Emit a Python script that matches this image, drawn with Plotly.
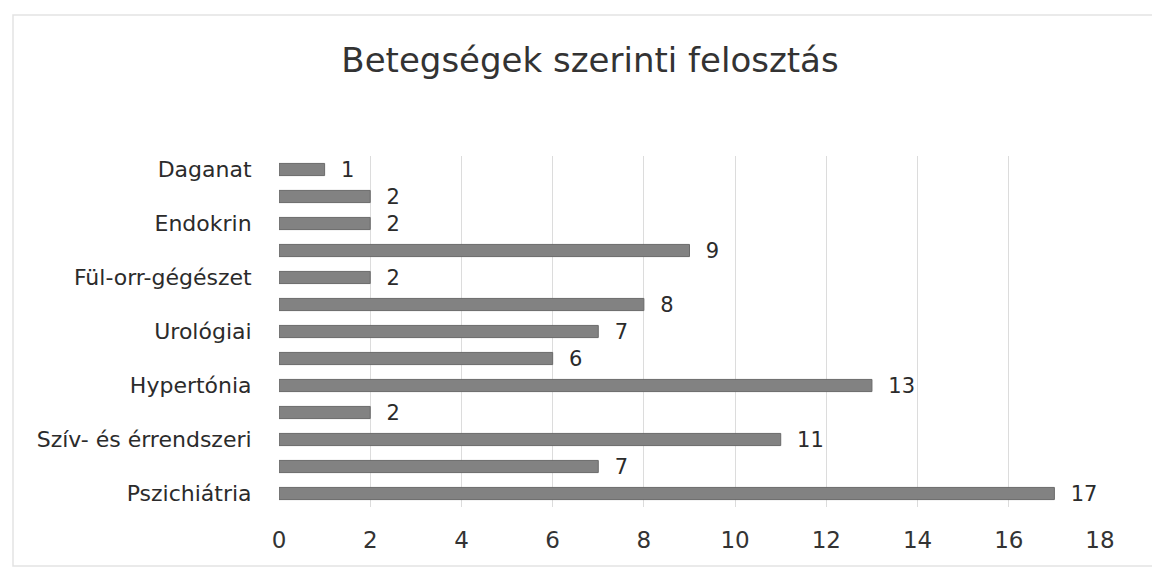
import plotly.graph_objects as go

# Data (top to bottom as in the reference)
labels = ["Daganat", "", "Endokrin", "", "Fül-orr-gégészet", "", "Urológiai", "",
          "Hypertónia", "", "Szív- és érrendszeri", "", "Pszichiátria"]
values = [1, 2, 2, 9, 2, 8, 7, 6, 13, 2, 11, 7, 17]
x_ticks = [0, 2, 4, 6, 8, 10, 12, 14, 16, 18]
title_text = "Betegségek szerinti felosztás"

positions = list(range(len(labels)))

W, H = 1160, 569
ml, mr, mt, mb = 271, 68, 148, 70
FONT = "DejaVu Sans, Verdana, sans-serif"

fig = go.Figure()
fig.add_trace(go.Bar(
    x=values,
    y=positions,
    orientation="h",
    marker=dict(color="#828282", line=dict(color="#6a6a6a", width=1)),
    text=values,
    texttemplate="  %{text}",
    textposition="outside",
    constraintext="none",
    textfont=dict(family=FONT, size=21, color="#2b2b2b"),
    cliponaxis=False,
    width=0.45,
    hoverinfo="x+y",
))

pw = W - ml - mr
ph = H - mt - mb

fig.update_layout(
    width=W, height=H,
    margin=dict(l=ml, r=mr, t=mt, b=mb, autoexpand=False),
    paper_bgcolor="white",
    plot_bgcolor="white",
    showlegend=False,
    title=dict(
        text=title_text,
        x=582 / W, xanchor="center", xref="container",
        y=1 - 52 / H, yanchor="middle", yref="container",
        font=dict(family=FONT, size=34, color="#333333"),
    ),
    xaxis=dict(
        range=[0, 18],
        tickvals=x_ticks,
        showgrid=True, gridcolor="#dcdcdc", gridwidth=1,
        zeroline=False,
        showline=False,
        automargin=False,
        ticks="outside", ticklen=12, tickcolor="rgba(0,0,0,0)",
        tickfont=dict(family=FONT, size=23, color="#333333"),
    ),
    yaxis=dict(
        tickvals=positions,
        ticktext=labels,
        range=[len(labels) - 0.5, -0.5],
        autorange=False,
        automargin=False,
        showgrid=False, zeroline=False, showline=False,
        ticks="outside", ticklen=22, tickcolor="rgba(0,0,0,0)",
        tickfont=dict(family=FONT, size=22, color="#2b2b2b"),
    ),
    shapes=[dict(
        type="rect", xref="paper", yref="paper",
        x0=(5 - ml) / pw, x1=(1148 - ml) / pw,
        y0=-(558 - (H - mb)) / ph, y1=1 + (mt - 7) / ph,
        line=dict(color="#e3e3e3", width=1.5),
        fillcolor="rgba(0,0,0,0)", layer="below",
    )],
)

fig.write_html("out.html")
